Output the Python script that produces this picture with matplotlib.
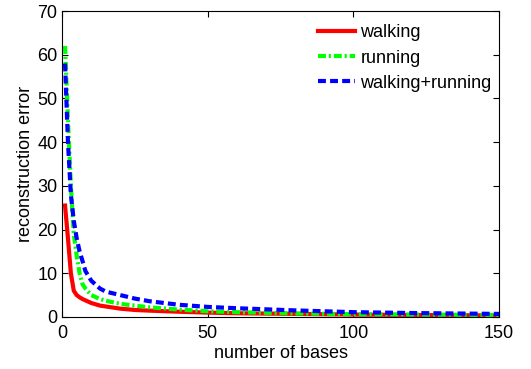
import numpy as np
import matplotlib
matplotlib.use('Agg')
from matplotlib import pyplot as plt

plt.rcParams['font.family'] = ['Liberation Sans', 'DejaVu Sans']

# numero de bases y error de reconstruccion
bases = [1, 2, 3, 4, 5, 6, 7, 8, 10, 13, 15, 20, 25, 30, 40, 50, 60, 80, 100, 120, 150]
err_walking = [25.5, 18, 10, 6, 5.0, 4.5, 4.1, 3.8, 3.2, 2.6, 2.4, 1.9, 1.6, 1.45, 1.2, 1.0, 0.85, 0.7, 0.55, 0.45, 0.35]
err_running = [62, 45, 30, 19, 14, 10, 7.5, 6.5, 5.0, 4.1, 3.7, 3.0, 2.6, 2.2, 1.7, 1.3, 1.1, 0.8, 0.65, 0.55, 0.45]
err_both = [58, 40, 28, 22, 18, 15, 12.8, 10.5, 8.3, 6.5, 5.8, 5.0, 4.2, 3.6, 2.8, 2.3, 2.0, 1.5, 1.1, 0.9, 0.7]

fig = plt.figure(figsize=(5.31, 3.69), dpi=100)
ax = fig.add_axes([0.117, 0.141, 0.823, 0.829])

ax.plot(bases, err_walking, '-', color='#ff0000', lw=3, label='walking')
ax.plot(bases, err_running, color='#00ff00', lw=3, dashes=(1.9, 0.7, 0.5, 0.7), label='running')
ax.plot(bases, err_both, color='#0000ff', lw=3, dashes=(1.9, 1.0), label='walking+running')

ax.set_xlim(0, 150)
ax.set_ylim(0, 70)
ax.set_xticks([0, 50, 100, 150])
ax.set_yticks(range(0, 71, 10))
ax.tick_params(direction='in', top=True, right=True, labelsize=13, length=4)
ax.tick_params(axis='x', pad=6)
ax.set_xlabel('number of bases', fontsize=13, labelpad=2)
ax.set_ylabel('reconstruction error', fontsize=13, labelpad=2)
ax.legend(loc='upper left', bbox_to_anchor=(0.569, 0.98), frameon=False, fontsize=13,
          handlelength=2.05, handletextpad=0.3, borderaxespad=0, labelspacing=0.45)

fig.savefig('out.png', dpi=100)
